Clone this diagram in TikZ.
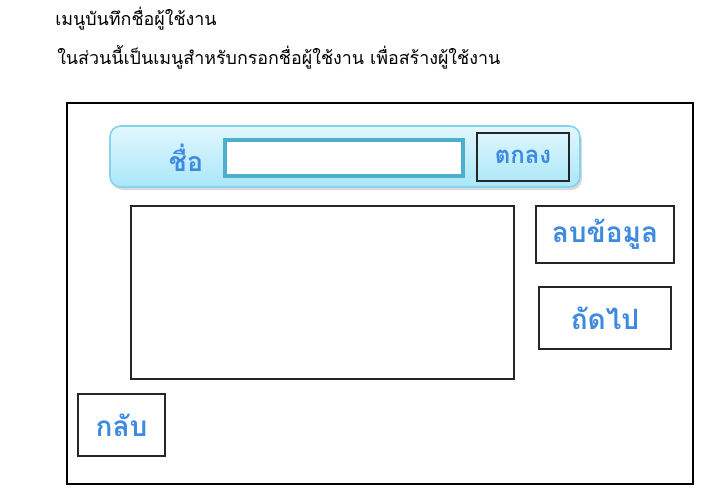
\documentclass[tikz,border=0pt]{standalone}
\usepackage{fontspec}
\newfontfamily\thaifont[Script=Thai]{Loma}
\definecolor{btntext}{HTML}{3D8AE0}
\definecolor{barline}{HTML}{86D2EA}
\definecolor{bartop}{HTML}{E2F7FD}
\definecolor{barbottom}{HTML}{A9E7F9}
\definecolor{fieldline}{HTML}{4DAFC9}
\tikzset{
  sz/.style 2 args={minimum width=#1*0.75pt, minimum height=#2*0.75pt, inner sep=0pt},
  box/.style={draw=black!85, line width=1.1pt, fill=white},
  btn/.style={box, text=btntext, font=\thaifont\bfseries\fontsize{21}{25}\selectfont},
  caption/.style={anchor=west, inner sep=0pt, font=\thaifont\fontsize{13.4}{16}\selectfont}
}
\begin{document}
\begin{tikzpicture}[x=0.75pt,y=-0.75pt]
  \useasboundingbox (0,0) rectangle (719,496);

  \node[caption] (title) at (55,19) {เมนูบันทึกชื่อผู้ใช้งาน};
  \node[caption] (note) at (57,57) {ในส่วนนี้เป็นเมนูสำหรับกรอกชื่อผู้ใช้งาน เพื่อสร้างผู้ใช้งาน};

  \node[draw=black, line width=0.9pt, sz={626}{381}] (frame) at (380,293.5) {};

  % search bar
  \fill[black!15, rounded corners=8pt] (112,130) rectangle (582,190);
  \node[draw=barline, line width=1.2pt, rounded corners=8pt, top color=bartop, bottom color=barbottom,
        sz={470}{61}] (bar) at (345,156.5) {};
  \node[text=btntext, font=\thaifont\bfseries\fontsize{20}{24}\selectfont] (name) at (186,158) {ชื่อ};
  \node[draw=fieldline, line width=2.6pt, fill=white, sz={238}{36}] (field) at (344,158) {};
  \node[btn, fill=none, font=\thaifont\bfseries\fontsize{18}{21}\selectfont, sz={92}{48}] (ok) at (523,157) {ตกลง};

  \node[box, sz={383}{173}] (list) at (322.5,292.5) {};
  \node[btn, sz={138}{57}] (del) at (605,234.5) {ลบข้อมูล};
  \node[btn, sz={132}{62}] (next) at (605,318) {ถัดไป};
  \node[btn, sz={87}{62}] (back) at (121.5,425) {กลับ};
\end{tikzpicture}
\end{document}
